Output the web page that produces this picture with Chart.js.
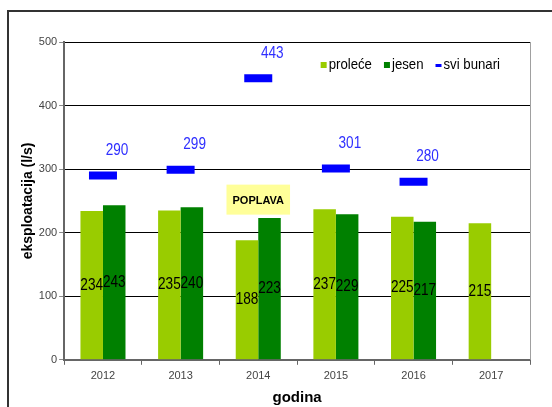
<!DOCTYPE html>
<html>
<head>
<meta charset="utf-8">
<script src="https://cdn.jsdelivr.net/npm/chart.js@4/dist/chart.umd.min.js"></script>
<style>
  html, body { margin: 0; padding: 0; background: #fff; }
  #wrap { position: relative; width: 552px; height: 407px; }
  #frame { position: absolute; left: 7px; top: 10px; right: -10px; bottom: -10px; border-left: 2px solid #333; border-top: 2px solid #333; }
  canvas { position: absolute; left: 0; top: 0; }
</style>
</head>
<body>
<div id="wrap">
  <div id="frame"></div>
  <canvas id="chart" width="552" height="407"></canvas>
</div>
<script>
const years = ['2012', '2013', '2014', '2015', '2016', '2017'];
const prolece = [234, 235, 188, 237, 225, 215];
const jesen = [243, 240, 223, 229, 217, null];
const sviBunari = [290, 299, 443, 301, 280, null];
const yTicks = [0, 100, 200, 300, 400, 500];
const floodNote = { year: '2014', value: 252, text: 'POPLAVA' };

const FONT = '"Liberation Sans", Arial, sans-serif';

// narrow text, like Arial Narrow in the original
function narrowText(ctx, text, x, y, sx) {
  ctx.save();
  ctx.translate(x, y);
  ctx.scale(sx, 1);
  ctx.fillText(text, 0, 0);
  ctx.restore();
}

const labelsPlugin = {
  id: 'valueLabels',
  afterDatasetsDraw(chart) {
    const ctx = chart.ctx;
    const a = chart.chartArea;
    ctx.save();
    ctx.textAlign = 'center';
    ctx.textBaseline = 'middle';
    chart.data.datasets.forEach((ds, i) => {
      const meta = chart.getDatasetMeta(i);
      meta.data.forEach((el, j) => {
        const v = ds.data[j];
        if (v == null) return;
        ctx.font = '16px ' + FONT;
        if (ds.type === 'line') {
          ctx.fillStyle = '#2f2fff';
          narrowText(ctx, v, el.x + 14, el.y - 25, 0.85);
        } else {
          ctx.fillStyle = '#000';
          narrowText(ctx, v, el.x, (el.y + el.base) / 2, 0.85);
        }
      });
    });

    // flood note
    const x = chart.scales.x.getPixelForValue(years.indexOf(floodNote.year));
    const y = chart.scales.y.getPixelForValue(floodNote.value);
    ctx.font = 'bold 11px ' + FONT;
    const w = ctx.measureText(floodNote.text).width + 12;
    ctx.fillStyle = '#ffff99';
    ctx.fillRect(x - w / 2, y - 15, w, 30);
    ctx.fillStyle = '#000';
    ctx.fillText(floodNote.text, x, y + 1);

    // legend, top right inside the plot
    const sx = 0.88;
    ctx.font = '15px ' + FONT;
    ctx.textAlign = 'left';
    const items = chart.data.datasets.map(ds => ({
      text: ds.label,
      color: ds.type === 'line' ? ds.borderColor : ds.backgroundColor,
      line: ds.type === 'line'
    }));
    const markW = 6, markGap = 2, itemGap = 12;
    let total = 0;
    items.forEach((it, k) => {
      it.w = markW + markGap + ctx.measureText(it.text).width * sx;
      total += it.w + (k ? itemGap : 0);
    });
    let lx = a.right - 30 - total;
    const ly = a.top + 23;
    items.forEach(it => {
      ctx.fillStyle = it.color;
      if (it.line) ctx.fillRect(lx, ly - 1, markW, 3);
      else ctx.fillRect(lx, ly - 3, markW, markW);
      ctx.fillStyle = '#000';
      narrowText(ctx, it.text, lx + markW + markGap, ly, sx);
      lx += it.w + itemGap;
    });

    // right border of the plot area
    ctx.strokeStyle = '#a0a0a0';
    ctx.lineWidth = 1;
    ctx.beginPath();
    ctx.moveTo(a.right + 0.5, a.top);
    ctx.lineTo(a.right + 0.5, a.bottom);
    ctx.stroke();
    ctx.restore();
  }
};

new Chart(document.getElementById('chart'), {
  type: 'bar',
  data: {
    labels: years,
    datasets: [
      { label: 'proleće', data: prolece, backgroundColor: '#99cc00', categoryPercentage: 0.58, barPercentage: 1, order: 2 },
      { label: 'jesen', data: jesen, backgroundColor: '#008000', categoryPercentage: 0.58, barPercentage: 1, order: 2 },
      {
        type: 'line', label: 'svi bunari', data: sviBunari, showLine: false,
        pointStyle: 'line', pointRadius: 14, pointHoverRadius: 14, pointBorderWidth: 8, pointHoverBorderWidth: 8,
        borderColor: '#0000ff', backgroundColor: '#0000ff', order: 1
      }
    ]
  },
  options: {
    responsive: false,
    animation: false,
    events: [],
    layout: { padding: { left: 20, right: 20, top: 42, bottom: 0 } },
    plugins: {
      tooltip: { enabled: false },
      legend: { display: false }
    },
    scales: {
      x: {
        offset: true,
        grid: { offset: true, drawOnChartArea: false, tickLength: 5, color: '#666' },
        border: { color: '#666', width: 2 },
        ticks: { color: '#444', font: { family: FONT, size: 11 }, padding: 5 },
        title: { display: true, text: 'godina', color: '#000', font: { family: FONT, size: 15, weight: 'bold' }, padding: { top: 1, bottom: 0 } }
      },
      y: {
        min: 0,
        max: 500,
        afterBuildTicks(axis) { axis.ticks = yTicks.map(v => ({ value: v })); },
        grid: { color: '#000', lineWidth: 1, tickLength: 5, tickColor: '#888' },
        border: { color: '#666', width: 2 },
        ticks: { color: '#444', font: { family: FONT, size: 11 }, padding: 2 },
        title: { display: true, text: 'eksploatacija (l/s)', color: '#000', font: { family: FONT, size: 14, weight: 'bold' }, padding: { top: 0, bottom: 0 } }
      }
    }
  },
  plugins: [labelsPlugin]
});
</script>
</body>
</html>
